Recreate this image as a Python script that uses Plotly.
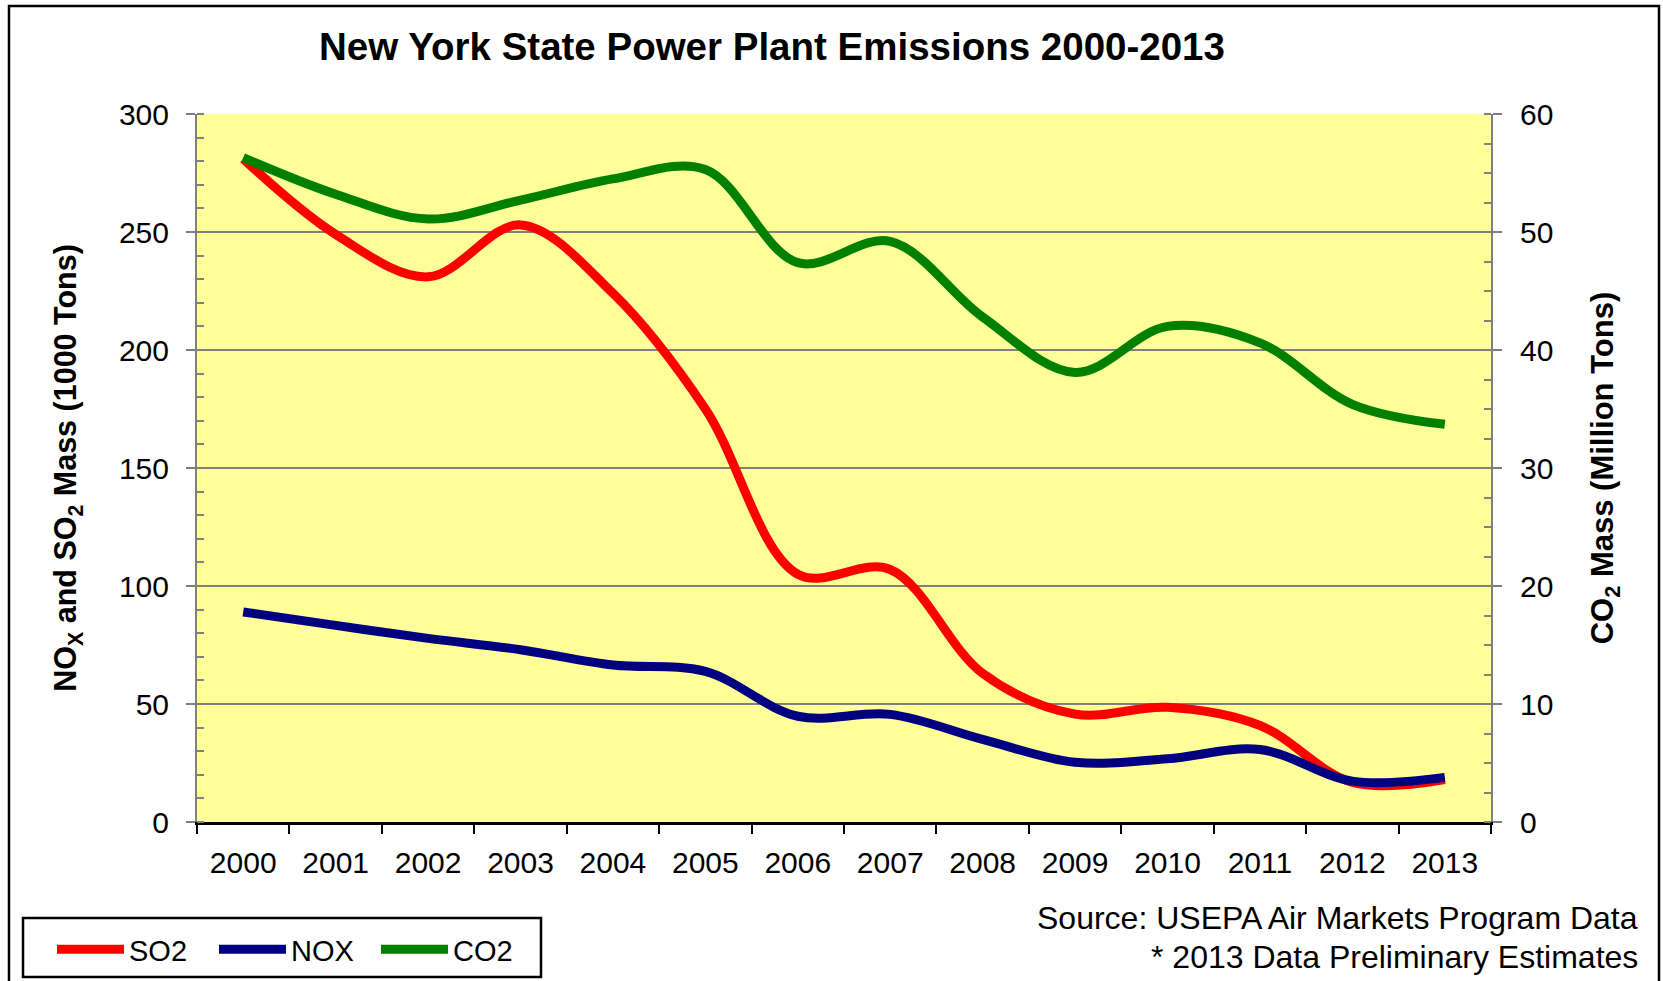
import plotly.graph_objects as go

years = [str(y) for y in range(2000, 2014)]
so2 = [281, 249, 231, 253, 224, 175, 105, 107, 63, 45.7, 48.6, 40.9, 16.8, 18]
nox = [89, 83.3, 77.8, 73, 66.5, 63.8, 44.8, 45.6, 35, 25.3, 26.8, 30.7, 17.3, 18.9]
co2 = [56.3, 53.2, 51.1, 52.7, 54.5, 55.3, 47.4, 49.2, 42.8, 38.1, 42.0, 40.6, 35.4, 33.7]

FONT = "Liberation Sans, Arial, sans-serif"
GRAY = "#808080"

# plot area in page pixels
PL, PR, PT, PB = 197, 1491, 114, 822
PW, PH = PR - PL, PB - PT


def px(x):
    return (x - PL) / PW


def py(y):
    return (PB - y) / PH


fig = go.Figure()
fig.add_trace(go.Scatter(x=years, y=so2, name="SO2", mode="lines",
                         line=dict(color="#FF0000", width=9, shape="spline", smoothing=1)))
fig.add_trace(go.Scatter(x=years, y=nox, name="NOX", mode="lines",
                         line=dict(color="#000080", width=9, shape="spline", smoothing=1)))
fig.add_trace(go.Scatter(x=years, y=co2, name="CO2", mode="lines", yaxis="y2",
                         line=dict(color="#008000", width=9, shape="spline", smoothing=1)))

fig.update_layout(
    width=1663, height=981,
    margin=dict(l=PL, r=1663 - PR, t=PT, b=981 - PB, autoexpand=False),
    paper_bgcolor="white", plot_bgcolor="#FFFF99",
    font=dict(family=FONT, size=30, color="black"),
    title=dict(text="<b>New York State Power Plant Emissions 2000-2013</b>",
               font=dict(family=FONT, size=38.5, color="black"),
               x=px(772), xref="paper", xanchor="center",
               y=1 - 47 / 981, yref="container", yanchor="middle"),
    xaxis=dict(type="category", range=[-0.5, 13.5], tickson="boundaries",
               ticks="outside", ticklen=9, tickwidth=2, tickcolor="black",
               showline=True, linecolor="black", linewidth=2.5,
               showgrid=False, zeroline=False, ticklabelstandoff=12,
               tickfont=dict(size=30)),
    yaxis=dict(range=[0, 300], dtick=50, tick0=0,
               ticks="outside", ticklen=9, tickwidth=2, tickcolor=GRAY,
               showline=True, linecolor=GRAY, linewidth=2,
               showgrid=True, gridcolor=GRAY, gridwidth=2, zeroline=False,
               minor=dict(dtick=10, ticks="inside", ticklen=7, tickwidth=2,
                          tickcolor=GRAY, showgrid=False),
               ticklabelstandoff=11, tickfont=dict(size=30),
               title=dict(text="<b>NO<sub>X</sub> and SO<sub>2</sub> Mass (1000 Tons)</b>",
                          font=dict(size=30.5), standoff=33)),
    yaxis2=dict(range=[0, 60], dtick=10, tick0=0, overlaying="y", side="right",
                ticks="outside", ticklen=9, tickwidth=2, tickcolor=GRAY,
                showline=True, linecolor=GRAY, linewidth=2,
                showgrid=False, zeroline=False,
                minor=dict(dtick=2.5, ticks="inside", ticklen=7, tickwidth=2,
                           tickcolor=GRAY, showgrid=False),
                ticklabelstandoff=12, tickfont=dict(size=30),
                title=dict(text="<b>CO<sub>2</sub> Mass (Million Tons)</b>",
                           font=dict(size=31), standoff=39)),
    showlegend=True,
    legend=dict(orientation="h", x=px(52), xanchor="left",
                y=py(924), yanchor="top",
                bgcolor="rgba(0,0,0,0)", borderwidth=0,
                font=dict(size=29), itemwidth=67, entrywidth=80,
                tracegroupgap=0),
    shapes=[
        # outer chart frame
        dict(type="rect", xref="paper", yref="paper",
             x0=px(9), x1=px(1659), y0=py(1000), y1=py(6),
             line=dict(color="black", width=2.5), fillcolor="rgba(0,0,0,0)",
             layer="below"),
        # legend frame
        dict(type="rect", xref="paper", yref="paper",
             x0=px(23), x1=px(541), y0=py(977), y1=py(918),
             line=dict(color="black", width=2.5), fillcolor="white",
             layer="below"),
    ],
    annotations=[
        dict(text="Source: USEPA Air Markets Program Data", xref="paper", yref="paper",
             x=px(1640), y=py(918), xanchor="right", yanchor="middle",
             showarrow=False, font=dict(size=32)),
        dict(text="* 2013 Data Preliminary Estimates", xref="paper", yref="paper",
             x=px(1640), y=py(957), xanchor="right", yanchor="middle",
             showarrow=False, font=dict(size=32)),
    ],
)

fig.write_html("out.html", config={"displayModeBar": False},
               post_script="document.body.style.margin='0';document.body.style.overflow='hidden';")
